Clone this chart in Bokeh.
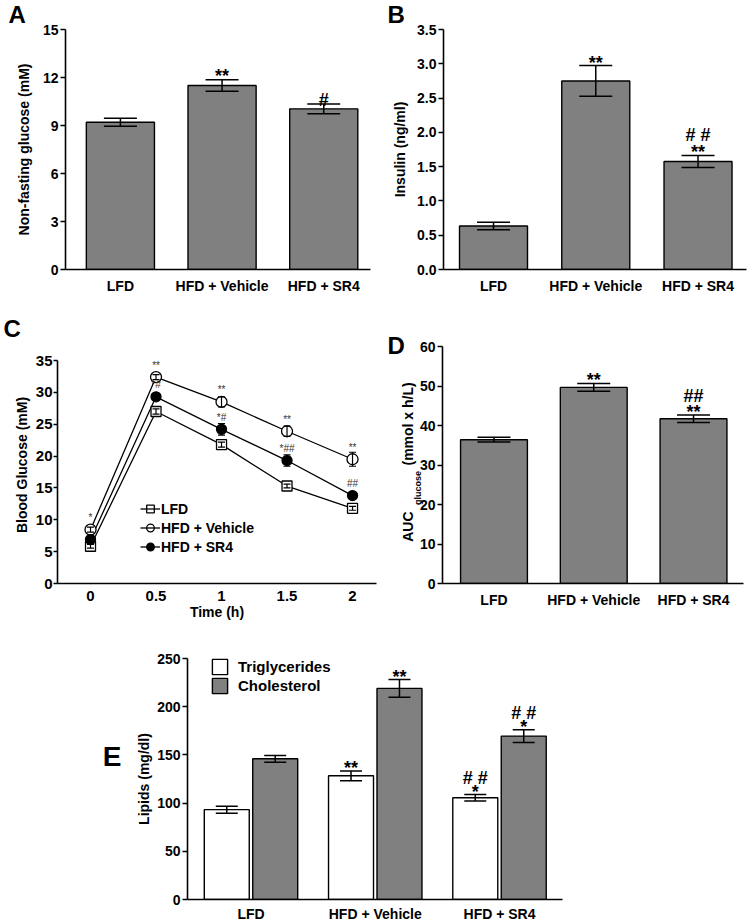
from bokeh.plotting import figure
from bokeh.models import (Range1d, FixedTicker, Legend, LegendItem, LinearAxis,
                          ColumnDataSource, NumeralTickFormatter)
from bokeh.layouts import column, row
from bokeh.transform import dodge
from bokeh.embed import file_html
from bokeh.resources import INLINE
from bokeh.core.properties import value

FONT = "Liberation Sans"
BAR_GRAY = "#808080"

# ---------------- data ----------------
groups = ["LFD", "HFD + Vehicle", "HFD + SR4"]

# A: non-fasting glucose (mM)
glucose_mean = [9.2, 11.5, 10.04]
glucose_sem = [0.25, 0.36, 0.30]
glucose_marks1 = ["", "**", "#"]

# B: insulin (ng/ml)
insulin_mean = [0.635, 2.75, 1.575]
insulin_sem = [0.055, 0.225, 0.088]
insulin_marks1 = ["", "**", "**"]
insulin_marks2 = ["", "", "# #"]

# C: glucose tolerance (mM)
time_h = [0, 0.5, 1, 1.5, 2]
ogtt_lfd = [5.85, 27.0, 21.8, 15.3, 11.8]
ogtt_lfd_sem = [0.3, 0.4, 0.4, 0.3, 0.3]
ogtt_veh = [8.45, 32.4, 28.5, 23.9, 19.5]
ogtt_veh_sem = [0.4, 0.4, 0.8, 0.8, 1.1]
ogtt_sr4 = [6.9, 29.3, 24.2, 19.3, 13.8]
ogtt_sr4_sem = [0.4, 0.4, 0.9, 0.9, 0.3]
ogtt_veh_marks = ["*", "**", "**", "**", "**"]
ogtt_sr4_marks = ["", "*#", "*#", "*##", "##"]

# D: AUC glucose (mmol x h/L)
auc_mean = [36.4, 49.65, 41.7]
auc_sem = [0.6, 1.0, 0.95]
auc_marks1 = ["", "**", "**"]
auc_marks2 = ["", "", "##"]

# E: lipids (mg/dl)
tg_mean = [93.2, 128.3, 105.5]
tg_sem = [3.6, 5.0, 3.4]
chol_mean = [146.0, 219.0, 169.5]
chol_sem = [3.5, 9.2, 6.6]
tg_marks1 = ["", "**", "*"]
tg_marks2 = ["", "", "# #"]
chol_marks1 = ["", "**", "*"]
chol_marks2 = ["", "", "# #"]


# ---------------- helpers ----------------
def make_fig(w, h, left, right, top, bottom, xr, yr):
    p = figure(width=w, height=h, x_range=Range1d(*xr), y_range=Range1d(*yr),
               output_backend="svg", toolbar_location=None,
               min_border_left=left, min_border_right=right,
               min_border_top=top, min_border_bottom=bottom)
    p.outline_line_color = None
    p.xgrid.visible = False
    p.ygrid.visible = False
    p.background_fill_color = "white"
    p.border_fill_color = "white"
    return p


def style_axis(ax, font, size, label_size=None):
    ax.axis_line_color = "black"
    ax.axis_line_width = 1.6
    ax.major_tick_line_color = "black"
    ax.major_tick_line_width = 1.6
    ax.major_tick_in = 0
    ax.major_tick_out = 5
    ax.minor_tick_line_color = None
    ax.minor_tick_in = 0
    ax.minor_tick_out = 0
    ax.major_label_text_font = font
    ax.major_label_text_font_style = "bold"
    ax.major_label_text_font_size = size
    ax.major_label_text_color = "black"
    ax.axis_label_text_font = font
    ax.axis_label_text_font_style = "bold"
    ax.axis_label_text_color = "black"
    ax.axis_label_text_font_size = label_size or size


def category_xaxis(p, standoff):
    ax = p.xaxis[0]
    style_axis(ax, FONT, "14px")
    ax.ticker = FixedTicker(ticks=list(range(len(groups))))
    ax.major_label_overrides = {i: g for i, g in enumerate(groups)}
    ax.major_tick_line_color = None
    ax.major_tick_out = 0
    ax.major_label_standoff = standoff
    ax.axis_label = None


def value_yaxis(p, ticks, label, label_standoff, font=FONT, size="14px", fmt=None,
                label_size=None):
    ax = p.yaxis[0]
    style_axis(ax, font, size, label_size)
    ax.ticker = FixedTicker(ticks=ticks)
    ax.major_label_standoff = 2
    ax.axis_label = label
    ax.axis_label_standoff = label_standoff
    if fmt:
        ax.formatter = NumeralTickFormatter(format=fmt)
    return ax


def label_axis(p, ticks, labels, size, standoff, orientation="horizontal"):
    """An extra, line-less axis whose tick labels carry free text."""
    ax = LinearAxis(ticker=FixedTicker(ticks=ticks),
                    major_label_overrides=dict(zip(ticks, labels)),
                    axis_line_color=None, major_tick_line_color=None,
                    minor_tick_line_color=None, major_tick_out=0, major_tick_in=0,
                    minor_tick_out=0, minor_tick_in=0,
                    major_label_standoff=standoff,
                    major_label_orientation=orientation,
                    major_label_text_font=FONT, major_label_text_font_style="bold",
                    major_label_text_font_size=size, major_label_text_color="black")
    p.add_layout(ax, "left")
    return ax


def draw_bars(p, means, sems, width, fill, cap, marks, offsets, shift=0.0,
              mark_size="18px"):
    data = dict(x=list(range(len(means))), top=means,
                lo=[m - s for m, s in zip(means, sems)],
                hi=[m + s for m, s in zip(means, sems)])
    for k, mk in enumerate(marks):
        data["m%d" % k] = mk
    src = ColumnDataSource(data)
    xs = dodge("x", shift, range=p.x_range)
    r = p.vbar(x=xs, top="top", bottom=0, width=width, fill_color=fill,
               line_color="black", line_width=1.4, source=src)
    p.segment(x0=xs, y0="lo", x1=xs, y1="hi", line_color="black",
              line_width=1.5, source=src)
    for col in ("lo", "hi"):
        p.scatter(x=xs, y=col, marker="dash", size=cap, line_color="black",
                  line_width=1.5, source=src)
    for k in range(len(marks)):
        p.text(x=xs, y="hi", text="m%d" % k, y_offset=offsets[k],
               text_align="center", text_baseline="alphabetic",
               text_font=value(FONT), text_font_style="bold",
               text_font_size=mark_size, text_color="black", source=src)
    return r


def panel_letter(p, txt, offset, valign="top", standoff=0, size="24px"):
    p.title.text = txt
    p.title.align = "left"
    p.title.offset = offset
    p.title.text_font = FONT
    p.title.text_font_style = "bold"
    p.title.text_font_size = size
    p.title.text_color = "black"
    p.title.vertical_align = valign
    try:
        p.title.standoff = standoff
    except Exception:
        p.title.standoff = 0


# ---------------- A ----------------
pa = make_fig(375, 300, 65, 5, 29, 31, (-0.54, 2.46), (0, 15))
draw_bars(pa, glucose_mean, glucose_sem, 0.67, BAR_GRAY, 33,
          [glucose_marks1], [-4])
category_xaxis(pa, 8)
value_yaxis(pa, [0, 3, 6, 9, 12, 15], "Non-fasting glucose (mM)", 8)
panel_letter(pa, "A", -57)

# ---------------- B ----------------
pb = make_fig(380, 300, 68, 9, 29, 31, (-0.489, 2.474), (0, 3.5))
draw_bars(pb, insulin_mean, insulin_sem, 0.665, BAR_GRAY, 33,
          [insulin_marks1, insulin_marks2], [-3, -20])
category_xaxis(pb, 8)
value_yaxis(pb, [0, 0.5, 1.0, 1.5, 2.0, 2.5, 3.0, 3.5], "Insulin (ng/ml)", 6,
            fmt="0.0")
panel_letter(pb, "B", -56)

# ---------------- C ----------------
# frame shares its top with D (plots in a row align), so the y range reaches a bit
# above 35 and the axis itself is bounded at 35
pc = make_fig(380, 336, 57, 4, 46, 53, (-0.252, 2.183), (0, 37.2))
series = [
    ("LFD", ogtt_lfd, ogtt_lfd_sem, "square", "white", 10),
    ("HFD + Vehicle", ogtt_veh, ogtt_veh_sem, "circle", "white", 11),
    ("HFD + SR4", ogtt_sr4, ogtt_sr4_sem, "circle", "black", 10),
]
sources = []
for name, m, s, marker, fill, size in series:
    sources.append(ColumnDataSource(dict(
        t=time_h, m=m,
        lo=[a - b for a, b in zip(m, s)],
        hi=[a + b for a, b in zip(m, s)])))
lines = []
for src in sources:
    lines.append(pc.line("t", "m", line_color="black", line_width=1.3, source=src))
marks_r = []
for (name, m, s, marker, fill, size), src in zip(series, sources):
    marks_r.append(pc.scatter("t", "m", marker=marker, size=size, fill_color=fill,
                              line_color="black", line_width=1.3, source=src))
    pc.segment(x0="t", y0="lo", x1="t", y1="hi", line_color="black",
               line_width=1.2, source=src)
    for col in ("lo", "hi"):
        pc.scatter("t", col, marker="dash", size=7, line_color="black",
                   line_width=1.2, source=src)

for marks, src in ((ogtt_veh_marks, sources[1]), (ogtt_sr4_marks, sources[2])):
    src.data["txt"] = marks
    pc.text(x="t", y="m", text="txt", y_offset=-12, text_align="center",
            text_baseline="middle", text_font=value(FONT),
            text_font_size="10px", text_color="#333333", source=src)

legend_c = Legend(items=[LegendItem(label=s[0], renderers=[r, l])
                         for s, l, r in zip(series, lines, marks_r)],
                  location=(83, 27), orientation="vertical",
                  glyph_width=20, glyph_height=19, label_height=19,
                  spacing=0, padding=0, margin=0, label_standoff=1,
                  border_line_color=None, background_fill_alpha=0,
                  label_text_font=FONT, label_text_font_style="bold",
                  label_text_font_size="14px", label_text_color="black")
pc.add_layout(legend_c)

axc = pc.xaxis[0]
style_axis(axc, FONT, "15px", "14px")
axc.ticker = FixedTicker(ticks=time_h)
axc.formatter = NumeralTickFormatter(format="0.[0]")
axc.major_tick_line_color = None
axc.major_tick_out = 0
axc.major_label_standoff = 7
axc.axis_label = "Time (h)"
axc.axis_label_standoff = 0
ayc = value_yaxis(pc, [0, 5, 10, 15, 20, 25, 30, 35], "Blood Glucose (mM)", 3,
                  size="15px", label_size="14px")
ayc.major_tick_out = 4
ayc.major_label_standoff = 1
ayc.bounds = (0, 35)
panel_letter(pc, "C", -54, valign="top", standoff=6)

# ---------------- D ----------------
pd_ = make_fig(375, 336, 62, 12, 46, 53, (-0.516, 2.501), (0, 60))
draw_bars(pd_, auc_mean, auc_sem, 0.67, BAR_GRAY, 33,
          [auc_marks1, auc_marks2], [-3, -19])
category_xaxis(pd_, 8)
value_yaxis(pd_, [0, 10, 20, 30, 40, 50, 60], None, 0)
# y-axis title "AUC_glucose (mmol x h/L)" with a subscript, as two text axes
label_axis(pd_, [24.2], ["glucose"], "9px", -7, orientation="vertical")
label_axis(pd_, [14.4, 40.4], ["AUC", "(mmol x h/L)"], "14px", -6,
           orientation="vertical")
panel_letter(pd_, "D", -55, valign="bottom", standoff=-24)

# ---------------- E ----------------
pe = make_fig(755, 288, 187, 193, 22, 23, (-0.511, 2.507), (0, 250))
r_tg = draw_bars(pe, tg_mean, tg_sem, 0.362, "white", 22,
                 [tg_marks1, tg_marks2], [-3, -17], shift=-0.195)
r_ch = draw_bars(pe, chol_mean, chol_sem, 0.362, BAR_GRAY, 22,
                 [chol_marks1, chol_marks2], [-3, -17], shift=0.195)
category_xaxis(pe, 6)
value_yaxis(pe, [0, 50, 100, 150, 200, 250], "Lipids (mg/dl)", 2)
label_axis(pe, [148], ["E"], "28px", 12)
legend_e = Legend(items=[LegendItem(label="Triglycerides", renderers=[r_tg]),
                         LegendItem(label="Cholesterol", renderers=[r_ch])],
                  location=(23, 204), orientation="vertical",
                  glyph_width=19, glyph_height=19, label_height=19,
                  spacing=0, padding=0, margin=0, label_standoff=9,
                  border_line_color=None, background_fill_alpha=0,
                  label_text_font=FONT, label_text_font_style="bold",
                  label_text_font_size="15px", label_text_color="black")
pe.add_layout(legend_e)

layout = column(row(pa, pb), row(pc, pd_), pe)

with open("out.html", "w") as f:
    f.write(file_html(layout, INLINE))
